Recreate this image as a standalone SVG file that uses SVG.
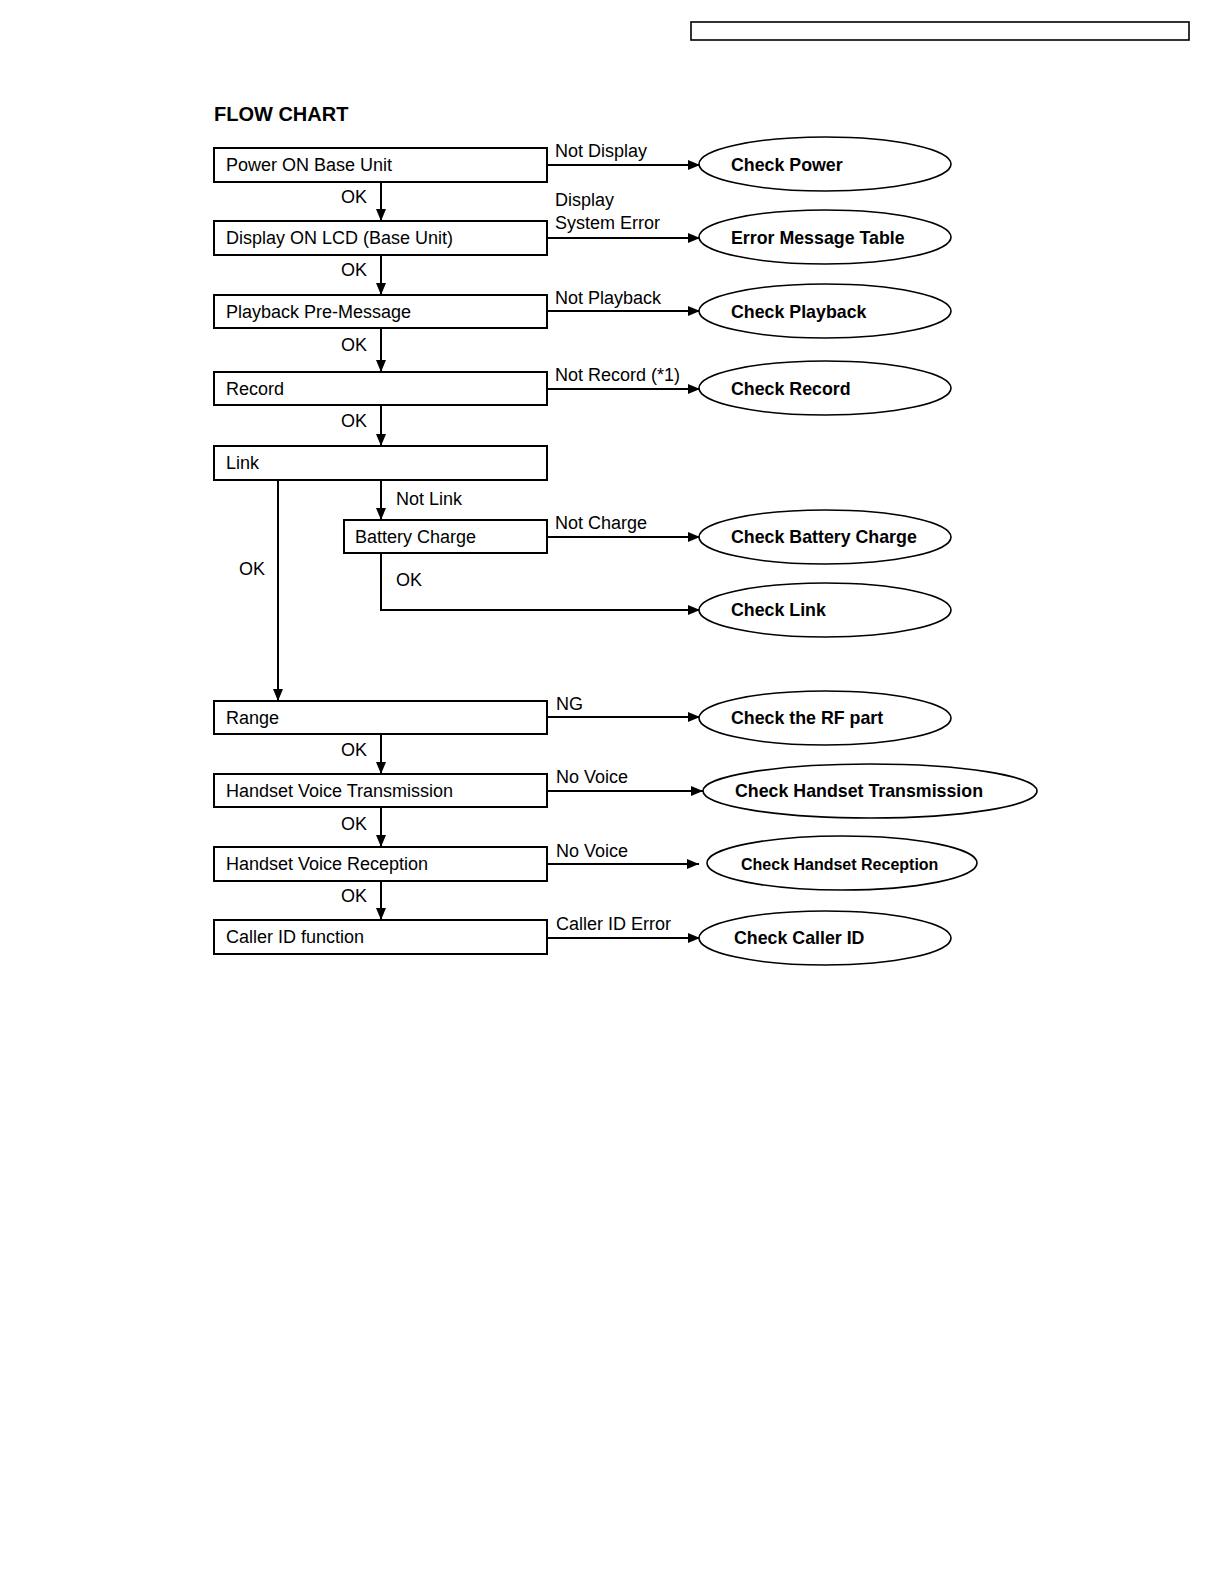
<svg xmlns="http://www.w3.org/2000/svg" width="1224" height="1584" viewBox="0 0 1224 1584">
<style>
.box{fill:#fff;stroke:#000;stroke-width:2}
.ell{fill:#fff;stroke:#000;stroke-width:1.6}
.t{font-family:"Liberation Sans",Arial,sans-serif;font-size:18px;fill:#000}
.b{font-family:"Liberation Sans",Arial,sans-serif;font-size:17.8px;font-weight:bold;fill:#000}
.ln{fill:none;stroke:#000;stroke-width:2}
</style>
<defs>
<marker id="ah" viewBox="0 0 12 10" refX="12" refY="5" markerWidth="12" markerHeight="10" markerUnits="userSpaceOnUse" orient="auto">
<path d="M0,0 L12,5 L0,10 Z" fill="#000"/>
</marker>
</defs>
<rect x="691" y="22" width="498" height="18" fill="none" stroke="#000" stroke-width="1.6"/>
<text x="214" y="121" font-family="Liberation Sans,Arial,sans-serif" font-size="20" font-weight="bold">FLOW CHART</text>

<g id="connectors">
<line class="ln" x1="381" y1="182" x2="381" y2="221" marker-end="url(#ah)"/>
<line class="ln" x1="381" y1="255" x2="381" y2="295" marker-end="url(#ah)"/>
<line class="ln" x1="381" y1="328" x2="381" y2="372" marker-end="url(#ah)"/>
<line class="ln" x1="381" y1="405" x2="381" y2="446" marker-end="url(#ah)"/>
<line class="ln" x1="381" y1="480" x2="381" y2="520" marker-end="url(#ah)"/>
<line class="ln" x1="278" y1="480" x2="278" y2="701" marker-end="url(#ah)"/>
<polyline class="ln" points="381,553 381,610 700,610" marker-end="url(#ah)"/>
<line class="ln" x1="381" y1="734" x2="381" y2="774" marker-end="url(#ah)"/>
<line class="ln" x1="381" y1="807" x2="381" y2="847" marker-end="url(#ah)"/>
<line class="ln" x1="381" y1="881" x2="381" y2="920" marker-end="url(#ah)"/>
<line class="ln" x1="547" y1="165" x2="700" y2="165" marker-end="url(#ah)"/>
<line class="ln" x1="547" y1="238" x2="700" y2="238" marker-end="url(#ah)"/>
<line class="ln" x1="547" y1="311" x2="700" y2="311" marker-end="url(#ah)"/>
<line class="ln" x1="547" y1="389" x2="700" y2="389" marker-end="url(#ah)"/>
<line class="ln" x1="547" y1="537" x2="700" y2="537" marker-end="url(#ah)"/>
<line class="ln" x1="547" y1="717" x2="700" y2="717" marker-end="url(#ah)"/>
<line class="ln" x1="547" y1="791" x2="703" y2="791" marker-end="url(#ah)"/>
<line class="ln" x1="547" y1="864" x2="699" y2="864" marker-end="url(#ah)"/>
<line class="ln" x1="547" y1="938" x2="700" y2="938" marker-end="url(#ah)"/>
<text class="t" x="341" y="203">OK</text>
<text class="t" x="341" y="276">OK</text>
<text class="t" x="341" y="351">OK</text>
<text class="t" x="341" y="427">OK</text>
<text class="t" x="396" y="505">Not Link</text>
<text class="t" x="239" y="575">OK</text>
<text class="t" x="396" y="586">OK</text>
<text class="t" x="341" y="756">OK</text>
<text class="t" x="341" y="830">OK</text>
<text class="t" x="341" y="902">OK</text>
<text class="t" x="555" y="157">Not Display</text>
<text class="t" x="555" y="206">Display</text>
<text class="t" x="555" y="229">System Error</text>
<text class="t" x="555" y="304">Not Playback</text>
<text class="t" x="555" y="381">Not Record (*1)</text>
<text class="t" x="555" y="529">Not Charge</text>
<text class="t" x="556" y="710">NG</text>
<text class="t" x="556" y="783">No Voice</text>
<text class="t" x="556" y="857">No Voice</text>
<text class="t" x="556" y="930">Caller ID Error</text>
</g>

<g id="power"><rect class="box" x="214" y="148" width="333" height="34"/><text class="t" x="226" y="171">Power ON Base Unit</text></g>
<g id="display"><rect class="box" x="214" y="221" width="333" height="34"/><text class="t" x="226" y="244">Display ON LCD (Base Unit)</text></g>
<g id="playback"><rect class="box" x="214" y="295" width="333" height="33"/><text class="t" x="226" y="318">Playback Pre-Message</text></g>
<g id="record"><rect class="box" x="214" y="372" width="333" height="33"/><text class="t" x="226" y="395">Record</text></g>
<g id="link"><rect class="box" x="214" y="446" width="333" height="34"/><text class="t" x="226" y="469">Link</text></g>
<g id="battery"><rect class="box" x="344" y="520" width="203" height="33"/><text class="t" x="355" y="543">Battery Charge</text></g>
<g id="range"><rect class="box" x="214" y="701" width="333" height="33"/><text class="t" x="226" y="724">Range</text></g>
<g id="hvt"><rect class="box" x="214" y="774" width="333" height="33"/><text class="t" x="226" y="797">Handset Voice Transmission</text></g>
<g id="hvr"><rect class="box" x="214" y="847" width="333" height="34"/><text class="t" x="226" y="870">Handset Voice Reception</text></g>
<g id="callerid"><rect class="box" x="214" y="920" width="333" height="34"/><text class="t" x="226" y="943">Caller ID function</text></g>

<g id="checkpower"><ellipse class="ell" cx="825" cy="164" rx="126" ry="27"/><text class="b" x="731" y="171">Check Power</text></g>
<g id="errortable"><ellipse class="ell" cx="825" cy="237" rx="126" ry="27"/><text class="b" x="731" y="244">Error Message Table</text></g>
<g id="checkplayback"><ellipse class="ell" cx="825" cy="311" rx="126" ry="27"/><text class="b" x="731" y="318">Check Playback</text></g>
<g id="checkrecord"><ellipse class="ell" cx="825" cy="388" rx="126" ry="27"/><text class="b" x="731" y="395">Check Record</text></g>
<g id="checkbattery"><ellipse class="ell" cx="825" cy="537" rx="126" ry="27"/><text class="b" x="731" y="543">Check Battery Charge</text></g>
<g id="checklink"><ellipse class="ell" cx="825" cy="610" rx="126" ry="27"/><text class="b" x="731" y="616">Check Link</text></g>
<g id="checkrf"><ellipse class="ell" cx="825" cy="718" rx="126" ry="27"/><text class="b" x="731" y="724">Check the RF part</text></g>
<g id="checkhvt"><ellipse class="ell" cx="870" cy="791" rx="167" ry="27"/><text class="b" x="735" y="797">Check Handset Transmission</text></g>
<g id="checkhvr"><ellipse class="ell" cx="842" cy="863" rx="135" ry="27"/><text class="b" x="741" y="870" style="font-size:16px">Check Handset Reception</text></g>
<g id="checkcid"><ellipse class="ell" cx="825" cy="938" rx="126" ry="27"/><text class="b" x="734" y="944">Check Caller ID</text></g>
</svg>
